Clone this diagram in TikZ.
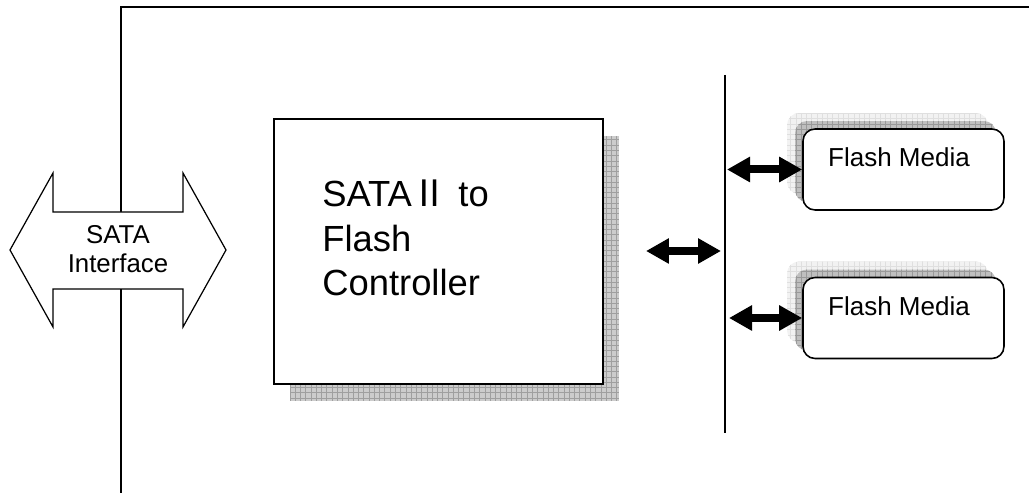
\documentclass[tikz,border=0pt]{standalone}
\usepackage{fontspec}
\setmainfont{Liberation Sans}
\newfontfamily\cjk{Noto Sans CJK SC}
\usetikzlibrary{positioning, arrows.meta, patterns, shadows, calc}

\begin{document}
\begin{tikzpicture}[x=0.02cm, y=-0.02cm,
    framepen/.style={line width=1.1pt},
    ctrlbox/.style={draw, line width=1.1pt, fill=white, minimum width=6.58cm, minimum height=5.3cm,
      general shadow={shadow xshift=0.32cm, shadow yshift=-0.34cm, fill=gray!40},
      general shadow={shadow xshift=0.32cm, shadow yshift=-0.34cm, pattern=grid, pattern color=gray!75}},
    mediabox/.style={draw, line width=0.9pt, fill=white, rounded corners=0.24cm, minimum width=4.02cm, minimum height=1.62cm,
      general shadow={shadow xshift=-0.32cm, shadow yshift=0.32cm, fill=gray!10},
      general shadow={shadow xshift=-0.32cm, shadow yshift=0.32cm, pattern=grid, pattern color=gray!25},
      general shadow={shadow xshift=-0.16cm, shadow yshift=0.16cm, fill=gray!50},
      general shadow={shadow xshift=-0.16cm, shadow yshift=0.16cm, pattern=grid, pattern color=gray!80}},
    medialabel/.style={font=\fontsize{14.8pt}{17pt}\selectfont, inner sep=0pt},
    biarrow/.style={line width=0.16cm, {Triangle[length=0.46cm, width=0.48cm]}-{Triangle[length=0.46cm, width=0.48cm]}}]
      \useasboundingbox (0,0) rectangle (1029,493);

      % Outer frame
      \coordinate (frametl) at (121,7);
      \coordinate (frametr) at (1029,7);
      \coordinate (framebl) at (121,493);
      \draw[framepen] (frametr) -- (frametl) -- (framebl);

      % SATA interface arrow
      \draw[line width=0.7pt, fill=white] (10,250) -- (53,173) -- (53,212) -- (183,212) -- (183,173)
        -- (226,250) -- (183,327) -- (183,289) -- (53,289) -- (53,327) -- cycle;
      \node[align=center, inner sep=0pt, font=\fontsize{14.7pt}{16.5pt}\selectfont] (sata) at (118,249) {SATA\\Interface};

      % Controller
      \node[ctrlbox] (ctrl) at (438.5,251.5) {};
      \node[anchor=base west, align=left, inner sep=0pt, font=\fontsize{20.7pt}{25.6pt}\selectfont] (ctrllabel) at (322,296)
        {SATA{\cjk Ⅱ} to\\Flash\\Controller};

      % Bus
      \coordinate (bustop) at (725,75);
      \coordinate (busbot) at (725,433);
      \draw[line width=0.9pt] (bustop) -- (busbot);

      % Flash media
      \node[mediabox] (fm1) at (903.5,169.5) {};
      \node[medialabel, anchor=base] (fm1label) at (899,167) {Flash Media};

      \node[mediabox] (fm2) at (903.5,318) {};
      \node[medialabel, anchor=base] (fm2label) at (899,316) {Flash Media};

      % Arrows
      \coordinate (ctrlout) at (646,251);
      \coordinate (busin) at (721,251);
      \coordinate (bus1) at (727,169.5);
      \coordinate (bus2) at (729,318);
      \draw[biarrow] (ctrlout) -- (busin);
      \draw[biarrow] (bus1) -- (fm1.west);
      \draw[biarrow] (bus2) -- (fm2.west);
\end{tikzpicture}
\end{document}
